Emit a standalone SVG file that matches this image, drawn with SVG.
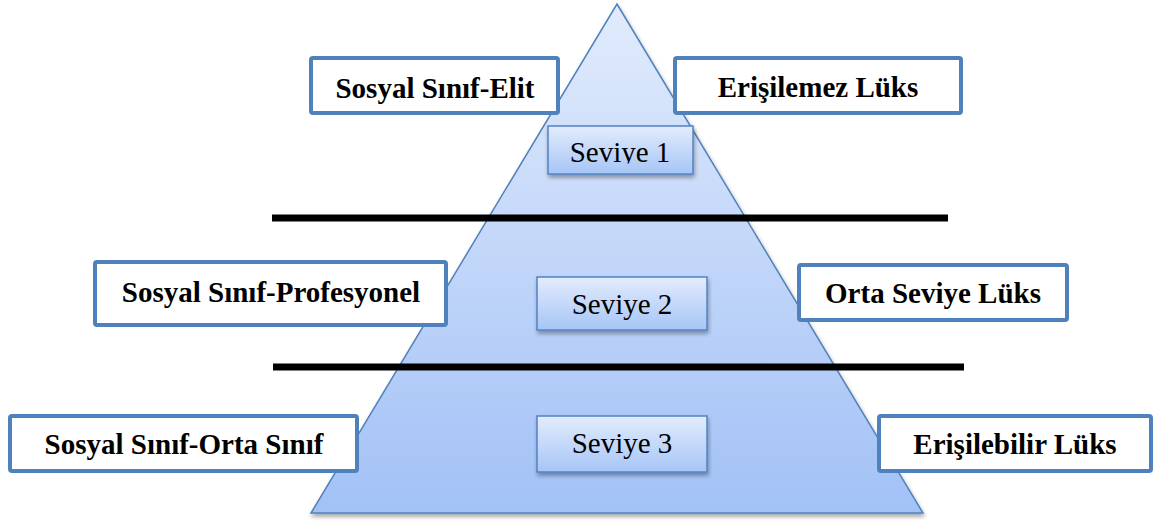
<svg xmlns="http://www.w3.org/2000/svg" width="1160" height="523" viewBox="0 0 1160 523">
  <defs>
    <linearGradient id="pyrFill" x1="0" y1="0" x2="0" y2="1">
      <stop offset="0" stop-color="#e1ebfc"/>
      <stop offset="1" stop-color="#a2c1f6"/>
    </linearGradient>
    <linearGradient id="levelFill" x1="0" y1="0" x2="0" y2="1">
      <stop offset="0" stop-color="#e3ecfd"/>
      <stop offset="1" stop-color="#a6c5f6"/>
    </linearGradient>
    <filter id="shadow" x="-10%" y="-10%" width="120%" height="130%">
      <feGaussianBlur in="SourceAlpha" stdDeviation="2"/>
      <feOffset dx="1" dy="3" result="b"/>
      <feComponentTransfer><feFuncA type="linear" slope="0.35"/></feComponentTransfer>
      <feMerge><feMergeNode/><feMergeNode in="SourceGraphic"/></feMerge>
    </filter>
    <clipPath id="clip1"><rect x="548" y="126" width="145" height="37.5"/></clipPath>
    <style>
      .label { fill: #ffffff; stroke: #4f81bd; stroke-width: 4; }
      .level { fill: url(#levelFill); stroke: #5283c2; stroke-width: 1.5; }
      text { font-family: "Liberation Serif", "DejaVu Serif", serif; font-size: 29px; fill: #000; text-anchor: middle; }
      .bold { font-weight: bold; }
      .divider { stroke: #000; stroke-width: 7; }
    </style>
  </defs>

  <rect width="1160" height="523" fill="#ffffff"/>

  <!-- pyramid -->
  <g id="pyramid">
    <polygon points="617,4 923,513 311,513" fill="url(#pyrFill)" stroke="#4f81bd" stroke-width="1.5" filter="url(#shadow)"/>
  </g>

  <!-- dividers between tiers -->
  <g id="connectors">
    <line class="divider" x1="272" y1="218" x2="948" y2="218"/>
    <line class="divider" x1="273" y1="367" x2="964" y2="367"/>
  </g>

  <!-- social class labels (left) -->
  <g id="class-elite">
    <rect class="label" x="311" y="58" width="247" height="55" rx="2"/>
    <text class="bold" x="435" y="98">Sosyal Sınıf-Elit</text>
  </g>
  <g id="class-professional">
    <rect class="label" x="95" y="262" width="351" height="63" rx="2"/>
    <text class="bold" x="271" y="302">Sosyal Sınıf-Profesyonel</text>
  </g>
  <g id="class-middle">
    <rect class="label" x="10" y="416" width="347" height="55" rx="2"/>
    <text class="bold" x="184" y="454">Sosyal Sınıf-Orta Sınıf</text>
  </g>

  <!-- luxury labels (right) -->
  <g id="lux-inaccessible">
    <rect class="label" x="675" y="58" width="286" height="55" rx="2"/>
    <text class="bold" x="818" y="97">Erişilemez Lüks</text>
  </g>
  <g id="lux-middle">
    <rect class="label" x="799" y="265" width="268" height="55" rx="2"/>
    <text class="bold" x="933" y="303">Orta Seviye Lüks</text>
  </g>
  <g id="lux-accessible">
    <rect class="label" x="879" y="416" width="272" height="55" rx="2"/>
    <text class="bold" x="1015" y="454">Erişilebilir Lüks</text>
  </g>

  <!-- level boxes -->
  <g id="level-1">
    <rect class="level" x="548" y="126" width="145" height="48" filter="url(#shadow)"/>
    <text x="620" y="162" clip-path="url(#clip1)">Seviye 1</text>
  </g>
  <g id="level-2">
    <rect class="level" x="537" y="277" width="170" height="53" filter="url(#shadow)"/>
    <text x="622" y="314">Seviye 2</text>
  </g>
  <g id="level-3">
    <rect class="level" x="537" y="416" width="170" height="56" filter="url(#shadow)"/>
    <text x="622" y="453">Seviye 3</text>
  </g>
</svg>
